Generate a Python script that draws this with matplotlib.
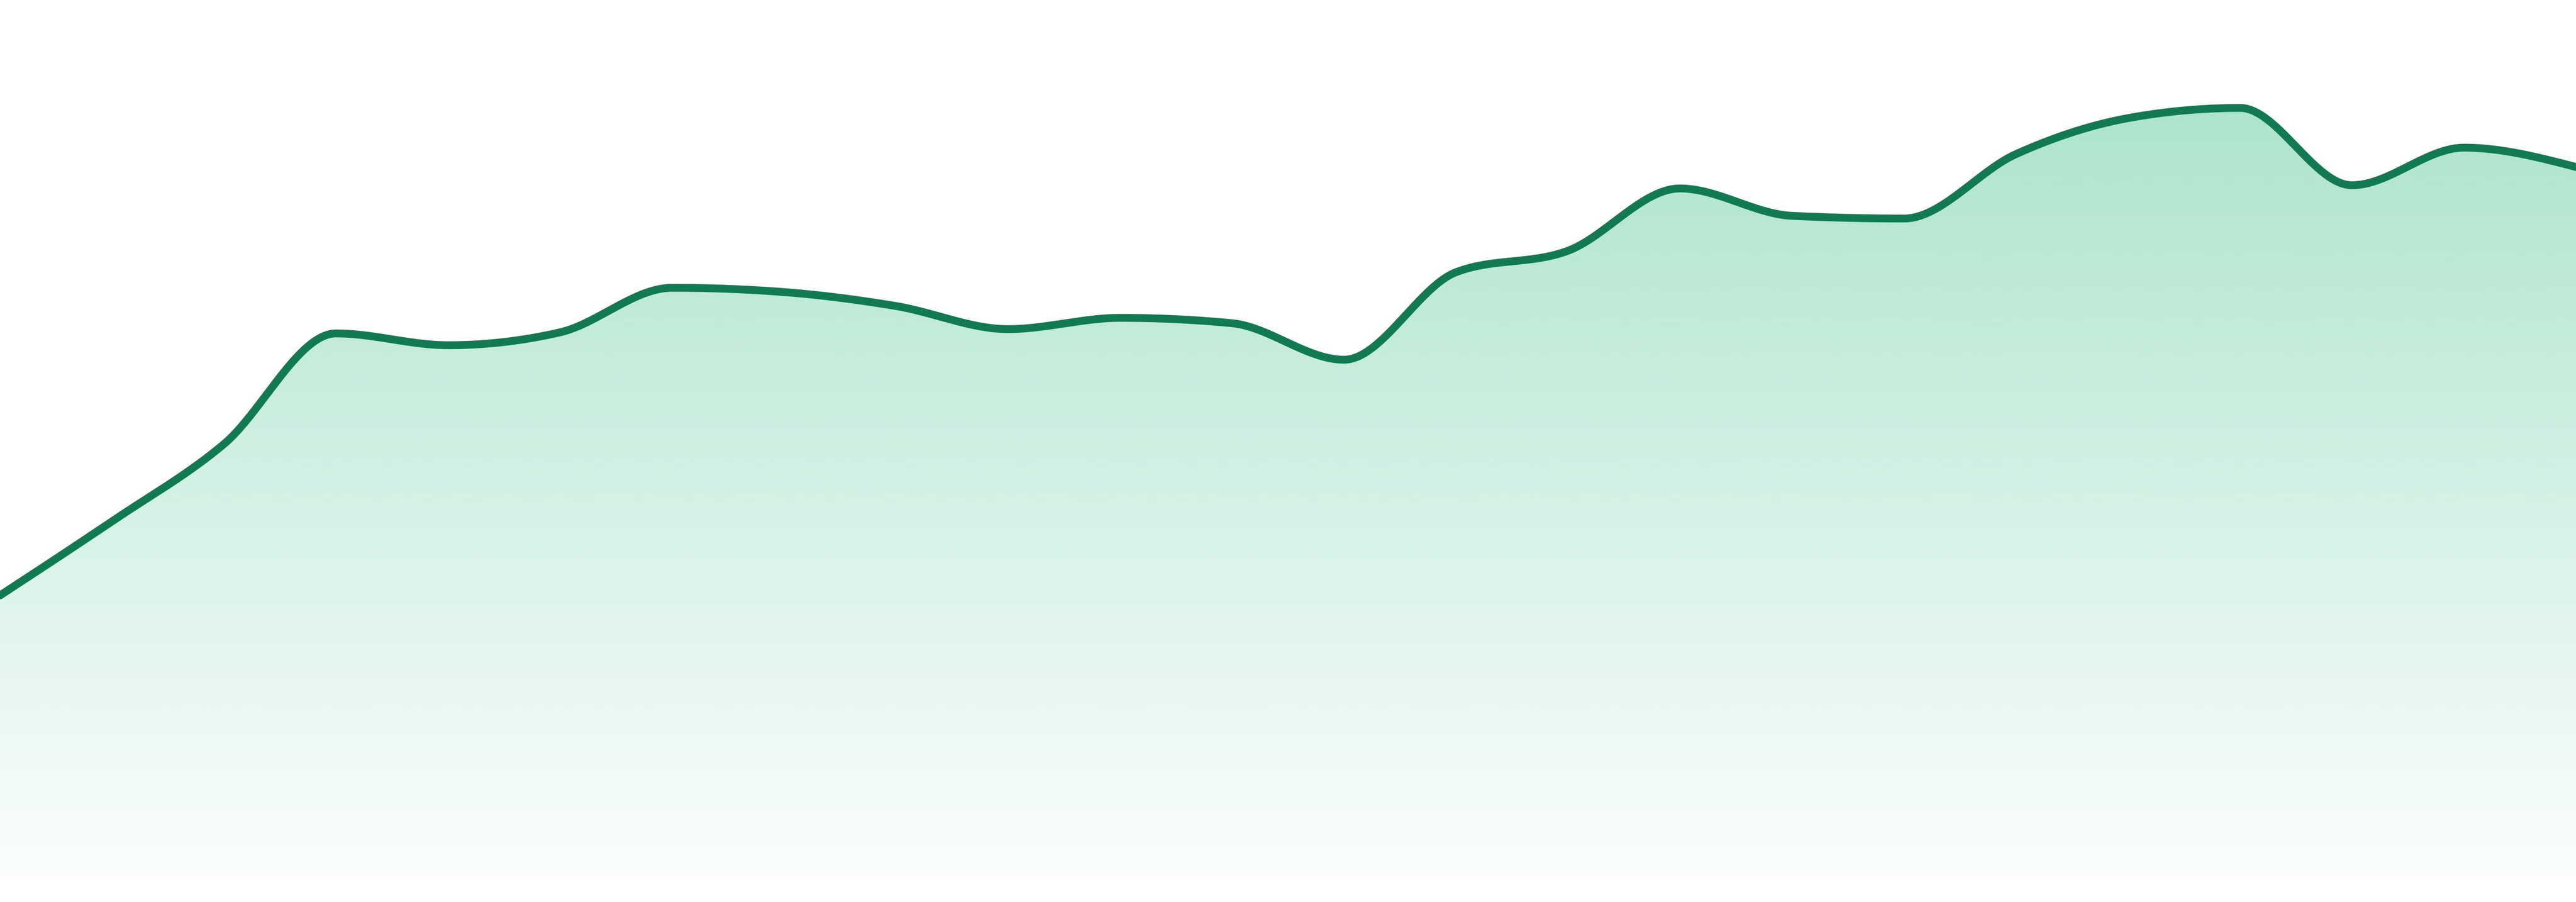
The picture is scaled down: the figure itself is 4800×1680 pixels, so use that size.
import numpy as np
import matplotlib
matplotlib.use('Agg')
import matplotlib.pyplot as plt

# values (24 evenly spaced points)
values = [52.3, 66.1, 80.5, 101.1, 98.9, 101.3, 109.6, 108.8, 106.2, 101.9,
          104.0, 103.0, 96.2, 112.5, 116.5, 128.1, 123.0, 122.5, 134.5, 141.2,
          143.1, 128.7, 135.7, 132.1]
line_color = '#127a52'
fill_rgb = (38 / 255, 184 / 255, 121 / 255)


def monotone_x(y, steps=60):
    # same idea as d3.curveMonotoneX (Steffen)
    y = np.asarray(y, dtype=float)
    n = len(y)
    d = np.diff(y)
    m = np.zeros(n)
    for i in range(1, n - 1):
        p = (d[i - 1] + d[i]) / 2
        m[i] = (np.sign(d[i - 1]) + np.sign(d[i])) * min(abs(d[i - 1]), abs(d[i]), 0.5 * abs(p))
    m[0] = (3 * d[0] - m[1]) / 2
    m[-1] = (3 * d[-1] - m[-2]) / 2
    xs, ys = [], []
    t = np.linspace(0, 1, steps, endpoint=False)
    for i in range(n - 1):
        h00 = 2 * t**3 - 3 * t**2 + 1
        h10 = t**3 - 2 * t**2 + t
        h01 = -2 * t**3 + 3 * t**2
        h11 = t**3 - t**2
        xs.append(i + t)
        ys.append(h00 * y[i] + h10 * m[i] + h01 * y[i + 1] + h11 * m[i + 1])
    xs.append([n - 1])
    ys.append([y[-1]])
    return np.concatenate(xs), np.concatenate(ys)


x, y = monotone_x(values)

fig = plt.figure(figsize=(16, 5.6), dpi=300)
ax = fig.add_axes([0, 0, 1, 1])
ymin, ymax = -4.8, 163.2
ax.set_xlim(0, len(values) - 1)
ax.set_ylim(ymin, ymax)
ax.axis('off')

# gradient fill under the curve
poly = ax.fill_between(x, 0, y, facecolor='none', edgecolor='none')
rows = 400
yy = np.linspace(ymax, 0, rows)
top_v, bot_v = 143.1, 0.0
a = 0.02 + (0.38 - 0.02) * np.clip((yy - bot_v) / (top_v - bot_v), 0, 1)
grad = np.zeros((rows, 1, 4))
grad[:, 0, 0], grad[:, 0, 1], grad[:, 0, 2] = fill_rgb
grad[:, 0, 3] = a
img = ax.imshow(grad, extent=[0, len(values) - 1, 0, ymax], aspect='auto',
                interpolation='bilinear', zorder=1)
img.set_clip_path(poly.get_paths()[0], transform=ax.transData)

ax.plot(x, y, color=line_color, lw=3.5, solid_joinstyle='round',
        solid_capstyle='round', zorder=2)

fig.savefig('out.png', dpi=300, facecolor='white')
